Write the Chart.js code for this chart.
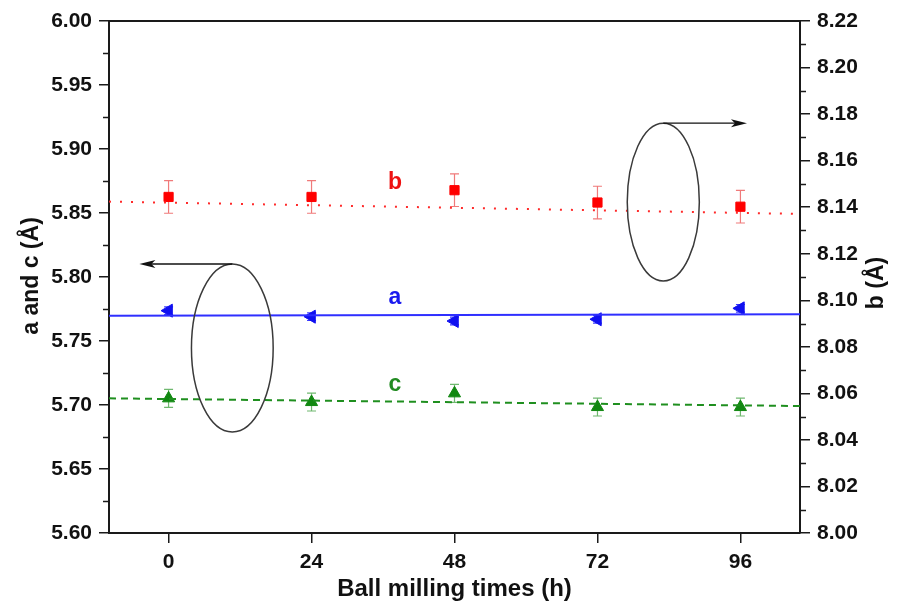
<!DOCTYPE html>
<html>
<head>
<meta charset="utf-8">
<script src="https://cdn.jsdelivr.net/npm/chart.js@4.4.1/dist/chart.umd.min.js"></script>
<style>
html,body{margin:0;padding:0;background:#fff;}
#wrap{width:897px;height:608px;position:relative;}
</style>
</head>
<body>
<div id="wrap"><canvas id="c" width="897" height="608"></canvas></div>
<script>
// ---- data ----
const times = [0, 24, 48, 72, 96];
const aVals = [5.7737, 5.7690, 5.7656, 5.7670, 5.7755];
const aErr  = [0.003, 0.003, 0.003, 0.003, 0.003];
const bVals = [8.1444, 8.1444, 8.1473, 8.1420, 8.1402];
const bErr  = [0.007, 0.007, 0.007, 0.007, 0.007];
const cVals = [5.7052, 5.7023, 5.7091, 5.6984, 5.6984];
const cErr  = [0.007, 0.007, 0.007, 0.007, 0.007];
// fitted lines (endpoints at the axis limits)
const fitX = [-10, 106];
const aFit = [5.7698, 5.7709];
const bFit = [8.1424, 8.1371];
const cFit = [5.7052, 5.6992];
// tick values
const xTicks = times;
const leftTickLabels = ['5.60','5.65','5.70','5.75','5.80','5.85','5.90','5.95','6.00'];
const rightTickLabels = ['8.00','8.02','8.04','8.06','8.08','8.10','8.12','8.14','8.16','8.18','8.20','8.22'];
// series labels: [text, x, y, axis, colour]
const seriesLabels = [
  ['b', 38, 8.1504, 'y2', '#ee1111'],
  ['a', 38, 5.7836, 'y', '#1a1aee'],
  ['c', 38, 5.7156, 'y', '#228b22']
];
// ellipses: [cx, cy, rx(h), ry, axis, arrow end x]
const ellipses = [
  [10.7, 5.7445, 6.86, 0.0656, 'y', -4.9],
  [83.05, 8.1422, 6.05, 0.0339, 'y2', 97.1]
];

const FONT = '"Liberation Sans", Arial, sans-serif';
const AX = '#1a1a1a';

const pts = (xs, ys) => xs.map((x, i) => ({x: x, y: ys[i]}));

const errorBars = {
  id: 'errorBars',
  beforeDatasetsDraw(chart) {
    const ctx = chart.ctx, xs = chart.scales.x;
    const sets = [
      [aVals, aErr, 'y', '#3b3bff'],
      [bVals, bErr, 'y2', '#f07a7a'],
      [cVals, cErr, 'y', '#6fb86f']
    ];
    ctx.save();
    ctx.lineWidth = 1.2;
    sets.forEach(([vals, errs, ax, col]) => {
      const ys = chart.scales[ax];
      ctx.strokeStyle = col;
      vals.forEach((v, i) => {
        const px = xs.getPixelForValue(times[i]);
        const t = ys.getPixelForValue(v + errs[i]);
        const b = ys.getPixelForValue(v - errs[i]);
        ctx.beginPath();
        ctx.moveTo(px, t); ctx.lineTo(px, b);
        ctx.moveTo(px - 4.5, t); ctx.lineTo(px + 4.5, t);
        ctx.moveTo(px - 4.5, b); ctx.lineTo(px + 4.5, b);
        ctx.stroke();
      });
    });
    ctx.restore();
  }
};

const decorations = {
  id: 'decorations',
  afterDraw(chart) {
    const ctx = chart.ctx, ca = chart.chartArea;
    const xs = chart.scales.x, yl = chart.scales.y, yr = chart.scales.y2;
    ctx.save();
    // top frame line
    ctx.strokeStyle = AX; ctx.lineWidth = 2;
    ctx.beginPath(); ctx.moveTo(ca.left, ca.top); ctx.lineTo(ca.right, ca.top); ctx.stroke();
    // minor ticks
    ctx.lineWidth = 1.5;
    for (let v = 5.625; v < 6.0; v += 0.05) {
      const py = Math.round(yl.getPixelForValue(v)) + 0.5;
      ctx.beginPath(); ctx.moveTo(ca.left - 6, py); ctx.lineTo(ca.left, py); ctx.stroke();
    }
    for (let v = 8.01; v < 8.22; v += 0.02) {
      const py = Math.round(yr.getPixelForValue(v)) + 0.5;
      ctx.beginPath(); ctx.moveTo(ca.right, py); ctx.lineTo(ca.right + 6, py); ctx.stroke();
    }
    // ellipses + arrows
    ellipses.forEach(([cx, cy, rx, ry, ax, ex]) => {
      const ys = chart.scales[ax];
      const px = xs.getPixelForValue(cx), py = ys.getPixelForValue(cy);
      const prx = Math.abs(xs.getPixelForValue(cx + rx) - px);
      const pry = Math.abs(ys.getPixelForValue(cy + ry) - py);
      ctx.strokeStyle = '#3a3a3a'; ctx.lineWidth = 1.5;
      ctx.beginPath(); ctx.ellipse(px, py, prx, pry, 0, 0, Math.PI * 2); ctx.stroke();
      const topY = py - pry;
      const endX = xs.getPixelForValue(ex);
      const dir = endX < px ? -1 : 1;
      ctx.strokeStyle = '#111'; ctx.lineWidth = 1.4;
      ctx.beginPath(); ctx.moveTo(px, topY); ctx.lineTo(endX - dir * 8, topY); ctx.stroke();
      ctx.fillStyle = '#111';
      ctx.beginPath();
      ctx.moveTo(endX, topY);
      ctx.lineTo(endX - dir * 16, topY - 4);
      ctx.lineTo(endX - dir * 12, topY);
      ctx.lineTo(endX - dir * 16, topY + 4);
      ctx.closePath(); ctx.fill();
    });
    // series letters
    ctx.font = 'bold 23px ' + FONT;
    ctx.textAlign = 'center'; ctx.textBaseline = 'middle';
    seriesLabels.forEach(([t, x, y, ax, col]) => {
      ctx.fillStyle = col;
      ctx.fillText(t, xs.getPixelForValue(x), chart.scales[ax].getPixelForValue(y));
    });
    // axis titles
    ctx.fillStyle = '#111';
    ctx.font = 'bold 24px ' + FONT;
    ctx.fillText('Ball milling times (h)', (ca.left + ca.right) / 2, 589);
    ctx.font = 'bold 23px ' + FONT;
    ctx.save(); ctx.translate(32, 276); ctx.rotate(-Math.PI / 2);
    ctx.fillText('a and c (Å)', 0, 0); ctx.restore();
    ctx.save(); ctx.translate(877, 283); ctx.rotate(-Math.PI / 2);
    ctx.fillText('b (Å)', 0, 0); ctx.restore();
    ctx.restore();
  }
};

const tickFont = {family: FONT, size: 21, weight: 'bold'};

new Chart(document.getElementById('c'), {
  type: 'line',
  data: {
    datasets: [
      {label: 'a fit', data: pts(fitX, aFit), yAxisID: 'y', borderColor: '#2f2fff', borderWidth: 2, pointRadius: 0},
      {label: 'b fit', data: pts(fitX, bFit), yAxisID: 'y2', borderColor: '#ff2a2a', borderWidth: 2, borderDash: [2, 9], pointRadius: 0},
      {label: 'c fit', data: pts(fitX, cFit), yAxisID: 'y', borderColor: '#1f8f1f', borderWidth: 2, borderDash: [7, 5], pointRadius: 0},
      {label: 'a', data: pts(times, aVals), yAxisID: 'y', showLine: false, pointStyle: 'triangle', rotation: 270,
        pointRadius: 7.5, backgroundColor: '#1010f0', borderColor: '#1010f0', borderWidth: 1},
      {label: 'b', data: pts(times, bVals), yAxisID: 'y2', showLine: false, pointStyle: 'rect',
        pointRadius: 6.5, backgroundColor: '#ff0000', borderColor: '#ff0000', borderWidth: 1},
      {label: 'c', data: pts(times, cVals), yAxisID: 'y', showLine: false, pointStyle: 'triangle',
        pointRadius: 7, backgroundColor: '#118811', borderColor: '#118811', borderWidth: 1}
    ]
  },
  options: {
    responsive: false,
    animation: false,
    layout: {padding: {top: 21, left: 0, right: 0, bottom: 0}},
    plugins: {legend: {display: false}, tooltip: {enabled: false}},
    scales: {
      x: {
        type: 'linear', min: -10, max: 106,
        afterBuildTicks: s => { s.ticks = xTicks.map(v => ({value: v})); },
        afterFit: s => { s.height = 75; },
        grid: {drawOnChartArea: false, drawTicks: true, tickLength: 10, color: AX, lineWidth: 1.5},
        border: {display: true, color: AX, width: 2},
        ticks: {font: tickFont, color: '#111', padding: 7, maxRotation: 0, callback: v => String(v)}
      },
      y: {
        position: 'left', min: 5.6, max: 6.0,
        afterBuildTicks: s => { s.ticks = leftTickLabels.map(t => ({value: parseFloat(t)})); },
        afterFit: s => { s.width = 109; },
        grid: {drawOnChartArea: false, drawTicks: true, tickLength: 10, color: AX, lineWidth: 1.5},
        border: {display: true, color: AX, width: 2},
        ticks: {font: tickFont, color: '#111', padding: 7, callback: v => v.toFixed(2)}
      },
      y2: {
        position: 'right', min: 8.0, max: 8.22,
        afterBuildTicks: s => { s.ticks = rightTickLabels.map(t => ({value: parseFloat(t)})); },
        afterFit: s => { s.width = 97; },
        grid: {drawOnChartArea: false, drawTicks: true, tickLength: 10, color: AX, lineWidth: 1.5},
        border: {display: true, color: AX, width: 2},
        ticks: {font: tickFont, color: '#111', padding: 7, callback: v => v.toFixed(2)}
      }
    }
  },
  plugins: [errorBars, decorations]
});
</script>
</body>
</html>
